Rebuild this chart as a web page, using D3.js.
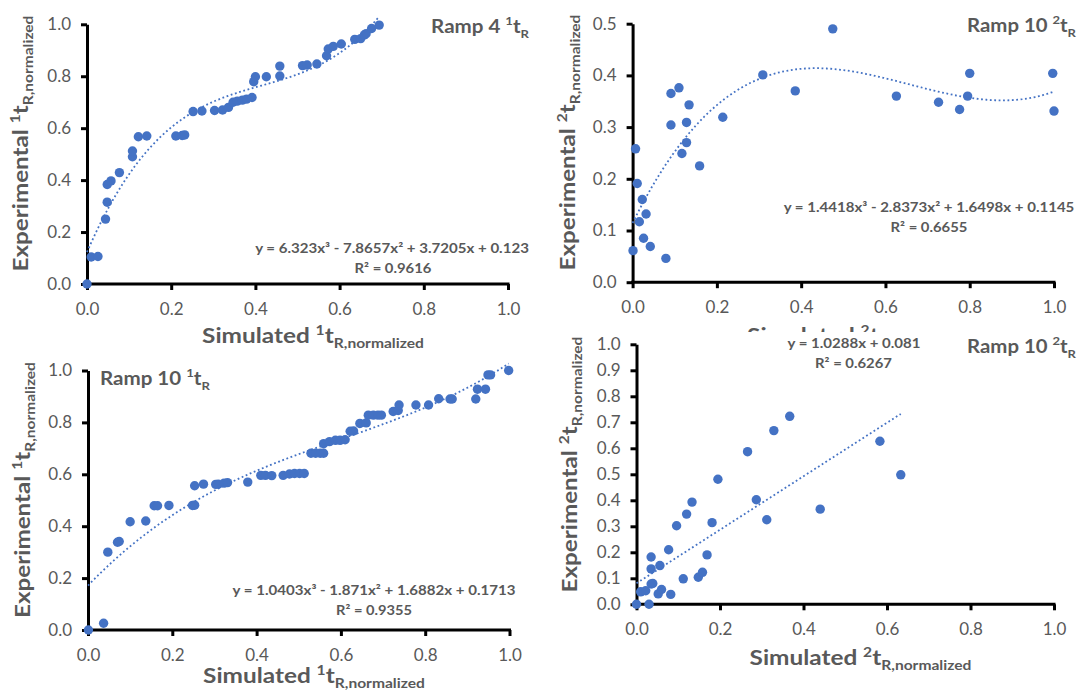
<!DOCTYPE html>
<html>
<head>
<meta charset="utf-8">
<script src="https://cdn.jsdelivr.net/npm/d3@7"></script>
<style>
  body { margin: 0; background: #fff; }
  text { font-family: Lato, "Open Sans", sans-serif; }
</style>
</head>
<body>
<svg id="chart" width="1079" height="699"></svg>
<script>
// [simulated, experimental] pairs
const ramp4T1 = [
  [0, 0], [0.01, 0.104], [0.026, 0.106], [0.044, 0.25], [0.048, 0.315],
  [0.048, 0.383], [0.057, 0.397], [0.077, 0.429], [0.108, 0.49], [0.108, 0.512],
  [0.122, 0.567], [0.142, 0.57], [0.211, 0.57], [0.226, 0.572], [0.232, 0.574],
  [0.252, 0.664], [0.273, 0.666], [0.303, 0.668], [0.322, 0.67], [0.336, 0.68],
  [0.347, 0.7], [0.357, 0.704], [0.369, 0.708], [0.379, 0.712], [0.392, 0.718],
  [0.396, 0.779], [0.4, 0.798], [0.426, 0.798], [0.458, 0.801], [0.458, 0.839],
  [0.512, 0.841], [0.523, 0.843], [0.546, 0.847], [0.569, 0.879], [0.573, 0.905],
  [0.585, 0.915], [0.604, 0.924], [0.636, 0.942], [0.65, 0.945], [0.659, 0.959],
  [0.663, 0.964], [0.676, 0.984], [0.694, 0.997]
];
const ramp10T2a = [
  [0.001, 0.061], [0.007, 0.258], [0.011, 0.191], [0.016, 0.117], [0.023, 0.16],
  [0.026, 0.085], [0.032, 0.132], [0.042, 0.069], [0.079, 0.046], [0.091, 0.365],
  [0.091, 0.304], [0.11, 0.376], [0.117, 0.249], [0.128, 0.27], [0.128, 0.309],
  [0.134, 0.343], [0.159, 0.225], [0.214, 0.319], [0.309, 0.401], [0.386, 0.37],
  [0.475, 0.49], [0.626, 0.36], [0.726, 0.348], [0.776, 0.334], [0.795, 0.36],
  [0.8, 0.404], [0.997, 0.404], [1.0, 0.331]
];
const ramp10T1 = [
  [0.001, 0], [0.037, 0.026], [0.047, 0.3], [0.07, 0.338], [0.074, 0.341],
  [0.1, 0.417], [0.137, 0.42], [0.157, 0.479], [0.165, 0.479], [0.192, 0.48],
  [0.248, 0.48], [0.253, 0.481], [0.253, 0.556], [0.274, 0.562], [0.303, 0.561],
  [0.309, 0.562], [0.323, 0.566], [0.331, 0.568], [0.379, 0.57], [0.41, 0.596],
  [0.421, 0.596], [0.436, 0.595], [0.463, 0.596], [0.478, 0.601], [0.49, 0.603],
  [0.502, 0.603], [0.513, 0.603], [0.529, 0.681], [0.54, 0.681], [0.551, 0.681],
  [0.559, 0.681], [0.559, 0.718], [0.573, 0.726], [0.587, 0.731], [0.598, 0.731],
  [0.61, 0.733], [0.622, 0.766], [0.63, 0.767], [0.645, 0.796], [0.66, 0.798],
  [0.665, 0.828], [0.677, 0.828], [0.688, 0.828], [0.696, 0.828], [0.724, 0.842],
  [0.736, 0.846], [0.738, 0.867], [0.778, 0.867], [0.808, 0.867], [0.832, 0.891],
  [0.859, 0.89], [0.864, 0.89], [0.92, 0.89], [0.924, 0.928], [0.943, 0.928],
  [0.949, 0.983], [0.955, 0.983], [0.998, 1.0]
];
const ramp10T2b = [
  [0, 0], [0.03, 0], [0.01, 0.048], [0.022, 0.052], [0.035, 0.078],
  [0.039, 0.08], [0.052, 0.04], [0.06, 0.057], [0.082, 0.038], [0.035, 0.136],
  [0.035, 0.182], [0.056, 0.149], [0.077, 0.21], [0.096, 0.302], [0.112, 0.098],
  [0.12, 0.347], [0.133, 0.393], [0.148, 0.104], [0.158, 0.123], [0.169, 0.19],
  [0.181, 0.314], [0.195, 0.481], [0.266, 0.587], [0.287, 0.402], [0.312, 0.325],
  [0.329, 0.668], [0.367, 0.723], [0.44, 0.366], [0.583, 0.627], [0.633, 0.498]
];

// trendline coefficients, highest power first
const ramp4T1Fit = [6.323, -7.8657, 3.7205, 0.123];
const ramp10T2aFit = [1.4418, -2.8373, 1.6498, 0.1145];
const ramp10T1Fit = [1.0403, -1.871, 1.6882, 0.1713];
const ramp10T2bFit = [1.0288, 0.081];

const blue = "#4472C4";
const grey = "#595959";
const svg = d3.select("#chart");

// text with super/subscript parts, squeezed to a target width
function label(parent, parts, o) {
  const g = parent.append("g");
  if (o.clip) g.attr("clip-path", o.clip);
  const inner = g.append("g");
  const t = inner.append("text")
    .attr("text-anchor", o.anchor || "start")
    .attr("font-size", o.size)
    .attr("font-weight", o.bold === false ? 400 : 700)
    .attr("fill", grey);
  let shift = 0;
  parts.forEach((p) => {
    const s = typeof p === "string" ? { t: p } : p;
    const want = s.sup ? -0.4 * o.size : s.sub ? 0.24 * o.size : 0;
    const ts = t.append("tspan").text(s.t);
    if (s.sup || s.sub) ts.attr("font-size", o.size * 0.64);
    if (want !== shift) ts.attr("dy", want - shift);
    shift = want;
  });
  const w = t.node().getComputedTextLength();
  const sx = o.width ? o.width / w : 1;
  inner.attr("transform", `translate(${o.x},${o.y}) rotate(${o.rotate || 0}) scale(${sx},1)`);
  return g;
}

// the top-right x title is mostly hidden under the lower-right card
svg.append("defs").append("clipPath").attr("id", "topClip")
  .append("rect").attr("x", 540).attr("y", 0).attr("width", 539).attr("height", 332);

function drawPanel(p) {
  const g = svg.append("g");
  const x = d3.scaleLinear().domain([0, 1]).range([p.left, p.right]);
  const y = d3.scaleLinear().domain([0, p.ymax]).range([p.bottom, p.top]);
  const yTicks = d3.range(0, p.ymax + 1e-9, p.ystep);

  const xAxis = g.append("g")
    .attr("transform", `translate(0,${p.bottom})`)
    .call(d3.axisBottom(x).tickValues(d3.range(0, 1.0001, 0.2))
      .tickFormat(d3.format(".1f")).tickSizeInner(6).tickSizeOuter(0).tickPadding(13));
  const yAxis = g.append("g")
    .attr("transform", `translate(${p.left},0)`)
    .call(d3.axisLeft(y).tickValues(yTicks)
      .tickFormat(d3.format(".1f")).tickSizeInner(6).tickSizeOuter(0).tickPadding(10));

  [xAxis, yAxis].forEach((a) => {
    a.select(".domain").attr("stroke", "#000").attr("stroke-width", 3);
    a.selectAll(".tick line").attr("stroke", "#000").attr("stroke-width", 3);
    a.selectAll(".tick text")
      .attr("fill", grey)
      .style("font-size", "17px")
      .style("font-family", "Lato, 'Open Sans', sans-serif");
  });
  xAxis.select(".domain").attr("d", `M${p.left - 1.5},0H${p.right + 1.5}`);

  g.append("g")
    .selectAll("circle")
    .data(p.data)
    .join("circle")
    .attr("cx", (d) => x(d[0]))
    .attr("cy", (d) => y(d[1]))
    .attr("r", 4.7)
    .attr("fill", blue);

  const xmax = d3.max(p.data, (d) => d[0]);
  const fx = (v) => p.fit.reduce((acc, c) => acc * v + c, 0);
  const xs = d3.range(0, xmax, 0.005).concat([xmax]);
  g.append("path")
    .datum(xs)
    .attr("d", d3.line().x((v) => x(v)).y((v) => y(fx(v))))
    .attr("fill", "none")
    .attr("stroke", blue)
    .attr("stroke-width", 1.8)
    .attr("stroke-dasharray", "1.8,2.6");

  label(g, p.title, { x: p.titlePos[0], y: p.titlePos[1], size: 19, anchor: p.titlePos[2], width: p.titlePos[3] });
  label(g, [p.eq], { x: p.eqPos[0], y: p.eqPos[1], size: 14, anchor: "middle", width: p.eqPos[2] });
  label(g, [p.r2], { x: p.r2Pos[0], y: p.r2Pos[1], size: 14, anchor: "middle", width: p.r2Pos[2] });
  label(g, ["Experimental ", { t: p.idx, sup: true }, "t", { t: "R,normalized", sub: true }],
    { x: p.yTitle[0], y: p.yTitle[1], size: 20, anchor: "middle", rotate: -90, width: 256 });
  label(g, ["Simulated ", { t: p.idx, sup: true }, "t", { t: "R,normalized", sub: true }],
    { x: p.xTitle[0], y: p.xTitle[1], size: 20, anchor: "middle", width: 222, clip: p.xClip });
}

drawPanel({
  data: ramp4T1, fit: ramp4T1Fit, idx: "1",
  left: 87, right: 508, top: 24.3, bottom: 284, ymax: 1, ystep: 0.2,
  title: ["Ramp 4 ", { t: "1", sup: true }, "t", { t: "R", sub: true }],
  titlePos: [529, 33, "end", 98],
  eq: "y = 6.323x³ - 7.8657x² + 3.7205x + 0.123", eqPos: [392, 253, 274],
  r2: "R² = 0.9616", r2Pos: [393, 273, 77],
  yTitle: [28, 143.5], xTitle: [313, 343]
});
drawPanel({
  data: ramp10T2a, fit: ramp10T2aFit, idx: "2",
  left: 632.6, right: 1054, top: 23.7, bottom: 282.2, ymax: 0.5, ystep: 0.1,
  title: ["Ramp 10 ", { t: "2", sup: true }, "t", { t: "R", sub: true }],
  titlePos: [1076, 32, "end", 109],
  eq: "y = 1.4418x³ - 2.8373x² + 1.6498x + 0.1145", eqPos: [929, 212, 291],
  r2: "R² = 0.6655", r2Pos: [929, 232, 77],
  yTitle: [575, 142.5], xTitle: [858, 343], xClip: "url(#topClip)"
});

// later panels sit on white cards that clip the titles above them
svg.append("rect").attr("x", 0).attr("y", 353).attr("width", 545).attr("height", 346).attr("fill", "#fff");
svg.append("rect").attr("x", 552).attr("y", 332).attr("width", 527).attr("height", 344).attr("fill", "#fff");

drawPanel({
  data: ramp10T1, fit: ramp10T1Fit, idx: "1",
  left: 88, right: 509.5, top: 370.5, bottom: 630, ymax: 1, ystep: 0.2,
  title: ["Ramp 10 ", { t: "1", sup: true }, "t", { t: "R", sub: true }],
  titlePos: [100, 385, "start", 110],
  eq: "y = 1.0403x³ - 1.871x² + 1.6882x + 0.1713", eqPos: [374, 595, 283],
  r2: "R² = 0.9355", r2Pos: [374, 615, 76],
  yTitle: [30, 490], xTitle: [314, 683]
});
drawPanel({
  data: ramp10T2b, fit: ramp10T2bFit, idx: "2",
  left: 636.5, right: 1054, top: 344.3, bottom: 604.3, ymax: 1, ystep: 0.1,
  title: ["Ramp 10 ", { t: "2", sup: true }, "t", { t: "R", sub: true }],
  titlePos: [1076, 353, "end", 109],
  eq: "y = 1.0288x + 0.081", eqPos: [854, 348, 133],
  r2: "R² = 0.6267", r2Pos: [853.5, 368, 77],
  yTitle: [577, 464.5], xTitle: [860.5, 665]
});
</script>
</body>
</html>
